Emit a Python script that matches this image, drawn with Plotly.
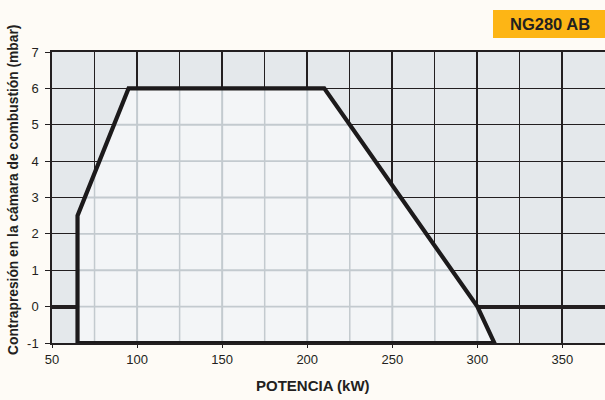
import numpy as np
import plotly.graph_objects as go

# Working field polygon (kW, mbar)
power_kw = [65, 65, 95, 210, 300, 310, 65]
pressure_mbar = [-1, 2.5, 6, 6, 0, -1, -1]

x_ticks = [50, 100, 150, 200, 250, 300, 350]
x_ticklabels = ["50", "100", "150", "200", "250", "300", "350"]
y_ticks = [-1, 0, 1, 2, 3, 4, 5, 6, 7]
y_ticklabels = ["-1", "0", "1", "2", "3", "4", "5", "6", "7"]

title_label = "NG280 AB"
x_title = "POTENCIA (kW)"
y_title = "Contrapresión en la cámara de combustión (mbar)"

W, H = 605, 400
ML, MR, MT, MB = 52, 0, 52, 57
PW, PH = W - ML - MR, H - MT - MB

DARK = "#231f20"
OUT_BG = "#e4e8eb"
IN_BG = "#f3f5f7"
IN_GRID = "#c3cacf"

fig = go.Figure()

# filled working area
fig.add_trace(go.Scatter(x=power_kw, y=pressure_mbar, mode="lines", fill="toself",
                         fillcolor=IN_BG, line=dict(width=0), hoverinfo="skip",
                         showlegend=False))

# light grid inside the polygon (clipped to the polygon)
up_x = [65, 95, 210, 300, 310]
up_y = [2.5, 6, 6, 0, -1]
xmin, xmax = min(power_kw), max(power_kw)
for gx in np.arange(75, 375, 25):
    if xmin < gx < xmax:
        top = float(np.interp(gx, up_x, up_y))
        w = 2 if gx % 50 == 0 else 1.5
        fig.add_trace(go.Scatter(x=[gx, gx], y=[-1, top], mode="lines",
                                 line=dict(color=IN_GRID, width=w),
                                 hoverinfo="skip", showlegend=False))
left_y, left_x = [-1, 2.5, 6], [65, 65, 95]
right_y, right_x = [-1, 0, 6], [310, 300, 210]
for gy in range(0, 6):
    x0 = float(np.interp(gy, left_y, left_x))
    x1 = float(np.interp(gy, right_y, right_x))
    fig.add_trace(go.Scatter(x=[x0, x1], y=[gy, gy], mode="lines",
                             line=dict(color=IN_GRID, width=1.8),
                             hoverinfo="skip", showlegend=False))

# polygon outline
fig.add_trace(go.Scatter(x=power_kw, y=pressure_mbar, mode="lines",
                         line=dict(color="#1c1a1b", width=4.2),
                         hoverinfo="skip", showlegend=False))

font = "Liberation Sans, Arial, sans-serif"

fig.update_xaxes(range=[50, 375], tickmode="array", tickvals=x_ticks,
                 ticktext=x_ticklabels, showgrid=True, gridcolor=DARK, gridwidth=2,
                 minor=dict(dtick=25, tick0=0, showgrid=True, gridcolor=DARK,
                            gridwidth=1.2, ticks=""),
                 showline=True, mirror=True, linecolor=DARK, linewidth=2,
                 ticks="outside", ticklen=3, tickcolor=DARK, zeroline=False,
                 tickfont=dict(family=font, size=13, color=DARK), fixedrange=True)
fig.update_yaxes(range=[-1, 7], tickmode="array", tickvals=y_ticks,
                 ticktext=y_ticklabels, showgrid=True, gridcolor=DARK, gridwidth=1.3,
                 zeroline=True, zerolinecolor=DARK, zerolinewidth=3.5,
                 showline=True, linecolor=DARK, linewidth=1.5,
                 ticks="outside", ticklen=5, tickcolor=DARK, tickwidth=1.2,
                 ticklabelstandoff=4,
                 tickfont=dict(family=font, size=13, color=DARK), fixedrange=True)

# model label box
bx0, bx1, by0, by1 = 493, 605, 10, 38
fig.add_shape(type="rect", xref="paper", yref="paper",
              x0=(bx0 - ML) / PW, x1=(bx1 - ML) / PW,
              y0=(H - MB - by1) / PH, y1=(H - MB - by0) / PH,
              fillcolor="#fdb515", line=dict(width=0), layer="above")
fig.add_annotation(xref="paper", yref="paper",
                   x=((bx0 + bx1) / 2 - ML + 1) / PW, y=(H - MB - (by0 + by1) / 2) / PH,
                   text="<b>" + title_label + "</b>", showarrow=False,
                   font=dict(family=font, size=16.5, color=DARK),
                   xanchor="center", yanchor="middle")

fig.add_annotation(xref="paper", yref="paper",
                   x=(313 - ML) / PW, y=(H - MB - 385) / PH,
                   text="<b>" + x_title + "</b>", showarrow=False,
                   font=dict(family=font, size=15, color=DARK),
                   xanchor="center", yanchor="middle")
fig.add_annotation(xref="paper", yref="paper",
                   x=(13 - ML) / PW, y=(H - MB - 190) / PH,
                   text="<b>" + y_title + "</b>", showarrow=False, textangle=-90,
                   font=dict(family=font, size=13.8, color=DARK),
                   xanchor="center", yanchor="middle")

fig.update_layout(width=W, height=H, margin=dict(l=ML, r=MR, t=MT, b=MB),
                  paper_bgcolor="#fefbf6", plot_bgcolor=OUT_BG, showlegend=False)

fig.write_html("out.html", config={"displayModeBar": False},
               post_script="document.body.style.margin='0';document.body.style.background='#fefbf6';")
